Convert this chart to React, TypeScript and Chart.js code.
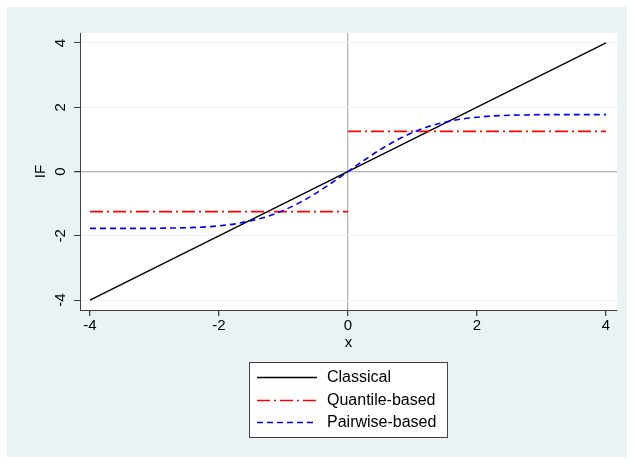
import React, { useEffect, useRef } from "react";
import { Chart, registerables } from "chart.js";
Chart.register(...registerables);

const xTicks = [-4, -2, 0, 2, 4];
const yTicks = [-4, -2, 0, 2, 4];

const classicalX = [-4, 4];
const classicalY = [-4, 4];

const quantileX = [-4, 0, 0, 0, 4];
const quantileY: (number | null)[] = [-1.25, -1.25, null, 1.25, 1.25];

const pairwiseX = [-4, -3.5, -3, -2.75, -2.5, -2.25, -2, -1.75, -1.5, -1.25, -1, -0.75, -0.5, -0.25, 0, 0.25, 0.5, 0.75, 1, 1.25, 1.5, 1.75, 2, 2.25, 2.5, 2.75, 3, 3.5, 4];
const pairwiseY = [-1.77, -1.77, -1.77, -1.76, -1.75, -1.73, -1.69, -1.63, -1.53, -1.4, -1.21, -0.97, -0.68, -0.35, 0, 0.35, 0.68, 0.97, 1.21, 1.4, 1.53, 1.63, 1.69, 1.73, 1.75, 1.76, 1.77, 1.77, 1.77];

const seriesNames = ["Classical", "Quantile-based", "Pairwise-based"];
const seriesColors = ["#000000", "#FF0000", "#0000FF"];
const seriesDash = [[], [13, 4, 2, 4], [6, 4]];
const seriesWidth = [1.4, 1.6, 1.6];

const BG = "#EAF2F3";
const FONT = "'Liberation Sans', Arial, sans-serif";

const zip = (xs: number[], ys: (number | null)[]) => xs.map((x, i) => ({ x, y: ys[i] }));

export default function App() {
  const ref = useRef<HTMLCanvasElement>(null);
  useEffect(() => {
    if (!ref.current) return;
    const decor = {
      id: "decor",
      beforeDraw(chart: any) {
        const { ctx, chartArea: a } = chart;
        ctx.save();
        ctx.fillStyle = BG;
        ctx.fillRect(0, 0, chart.width, chart.height);
        ctx.fillStyle = "#FFFFFF";
        ctx.fillRect(a.left, a.top, a.right - a.left, a.bottom - a.top);
        ctx.restore();
      },
      afterDraw(chart: any) {
        const { ctx, chartArea: a } = chart;
        const ys = chart.scales.y;
        ctx.save();
        ctx.fillStyle = "#000";
        ctx.font = `15px ${FONT}`;
        ctx.textAlign = "center";
        ctx.textBaseline = "middle";
        yTicks.forEach((v) => {
          const py = ys.getPixelForValue(v);
          ctx.save();
          ctx.translate(54, py);
          ctx.rotate(-Math.PI / 2);
          ctx.fillText(String(v), 0, 0);
          ctx.restore();
        });
        ctx.save();
        ctx.translate(34, (a.top + a.bottom) / 2);
        ctx.rotate(-Math.PI / 2);
        ctx.fillText("IF", 0, 0);
        ctx.restore();
        ctx.fillText("x", (a.left + a.right) / 2, 336);
        // legend
        const bx = 242, by = 355, bw = 198, bh = 75;
        ctx.fillStyle = "#FFFFFF";
        ctx.fillRect(bx, by, bw, bh);
        ctx.strokeStyle = "#404040";
        ctx.lineWidth = 1;
        ctx.strokeRect(bx + 0.5, by + 0.5, bw, bh);
        const rows = [370, 393, 415];
        ctx.font = `16px ${FONT}`;
        seriesNames.forEach((n, i) => {
          ctx.strokeStyle = seriesColors[i];
          ctx.lineWidth = seriesWidth[i];
          ctx.setLineDash(seriesDash[i]);
          ctx.beginPath();
          ctx.moveTo(250, rows[i] + 0.5);
          ctx.lineTo(310, rows[i] + 0.5);
          ctx.stroke();
          ctx.setLineDash([]);
          ctx.fillStyle = "#000";
          ctx.textAlign = "left";
          ctx.fillText(n, 320, rows[i] + 1);
        });
        ctx.restore();
      },
    };
    const chart = new Chart(ref.current, {
      type: "line",
      data: {
        datasets: [
          { label: seriesNames[0], data: zip(classicalX, classicalY), borderColor: seriesColors[0], borderWidth: seriesWidth[0], borderDash: seriesDash[0], pointRadius: 0, order: 3 },
          { label: seriesNames[1], data: zip(quantileX, quantileY), borderColor: seriesColors[1], borderWidth: seriesWidth[1], borderDash: seriesDash[1], pointRadius: 0, spanGaps: false, order: 2 },
          { label: seriesNames[2], data: zip(pairwiseX, pairwiseY), borderColor: seriesColors[2], borderWidth: seriesWidth[2], borderDash: seriesDash[2], pointRadius: 0, cubicInterpolationMode: "monotone", order: 1 },
        ] as any,
      },
      plugins: [decor],
      options: {
        responsive: false,
        animation: false,
        layout: { padding: { top: 26, right: 10, bottom: 97, left: 0 } },
        plugins: { legend: { display: false }, tooltip: { enabled: false } },
        scales: {
          x: {
            type: "linear",
            min: -4.155,
            max: 4.171,
            afterBuildTicks: (s: any) => { s.ticks = xTicks.map((v) => ({ value: v })); },
            afterFit: (s: any) => { s.height = 50; },
            ticks: { color: "#000", font: { family: FONT, size: 15 }, padding: 1, maxRotation: 0 },
            grid: {
              color: (c: any) => (c.tick && c.tick.value === 0 ? "#B4B4B4" : "rgba(0,0,0,0)"),
              lineWidth: 1.3,
              tickColor: "#404040",
              tickLength: 6,
            },
            border: { display: true, color: "#404040", width: 1 },
          },
          y: {
            type: "linear",
            min: -4.311,
            max: 4.311,
            afterBuildTicks: (s: any) => { s.ticks = yTicks.map((v) => ({ value: v })); },
            afterFit: (s: any) => { s.width = 73; },
            ticks: { display: false },
            grid: {
              color: (c: any) => (c.tick && c.tick.value === 0 ? "#B4B4B4" : BG),
              lineWidth: (c: any) => (c.tick && c.tick.value === 0 ? 1.3 : 1),
              tickColor: "#404040",
              tickLength: 6,
            },
            border: { display: true, color: "#404040", width: 1 },
          },
        },
      } as any,
    });
    return () => chart.destroy();
  }, []);
  return (
    <div style={{ position: "absolute", left: 7, top: 7, width: 620, height: 450 }}>
      <canvas ref={ref} width={620} height={450} style={{ width: 620, height: 450, display: "block" }} />
    </div>
  );
}
